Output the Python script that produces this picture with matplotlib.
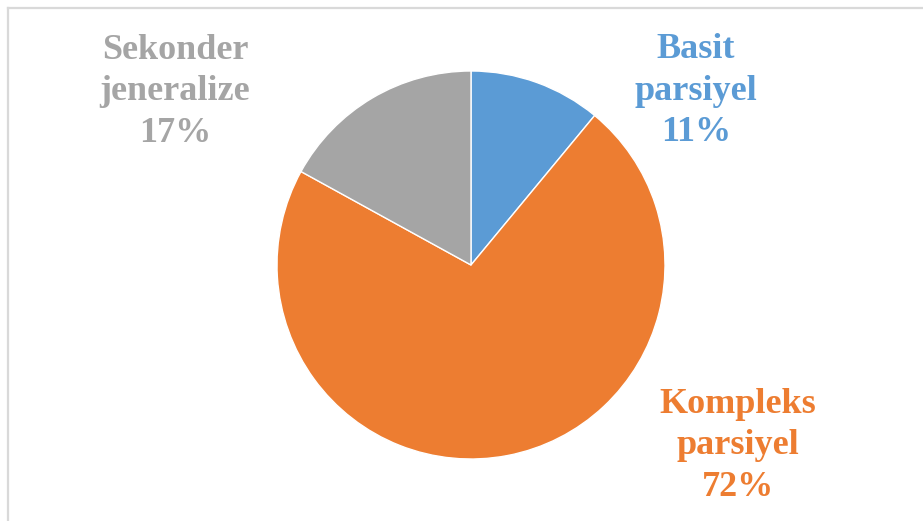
import matplotlib.pyplot as plt
from matplotlib.lines import Line2D

categories = ["Basit\nparsiyel", "Kompleks\nparsiyel", "Sekonder\njeneralize"]
values = [11, 72, 17]
colors = ["#5B9BD5", "#ED7D31", "#A5A5A5"]
# label centres in figure pixels (x from left, y from top)
label_px = [(696, 91), (738, 446), (175, 92)]

W, H = 923, 521
fig = plt.figure(figsize=(W / 100, H / 100), dpi=100)
fig.patch.set_facecolor("white")

# chart frame (top and left edges visible)
fig.add_artist(Line2D([8 / W, 8 / W], [0, 1 - 8 / H], transform=fig.transFigure,
                      color="#D9D9D9", lw=1.6))
fig.add_artist(Line2D([8 / W, 1], [1 - 8 / H, 1 - 8 / H], transform=fig.transFigure,
                      color="#D9D9D9", lw=1.6))

cx, cy, r = 471, 265, 194
ax = fig.add_axes([(cx - r) / W, (H - cy - r) / H, 2 * r / W, 2 * r / H])
ax.pie(values, colors=colors, startangle=90, counterclock=False, radius=1,
       wedgeprops=dict(edgecolor="white", linewidth=1))
ax.set_xlim(-1, 1)
ax.set_ylim(-1, 1)
ax.set_aspect("auto")
ax.axis("off")

total = sum(values)
for cat, v, c, (px, py) in zip(categories, values, colors, label_px):
    fig.text(px / W, 1 - py / H, f"{cat}\n{round(100 * v / total)}%",
             ha="center", va="center", ma="center", color=c,
             fontsize=26, fontweight="bold", family="Liberation Serif",
             linespacing=1.34)

fig.savefig("out.png", dpi=100, facecolor="white")
